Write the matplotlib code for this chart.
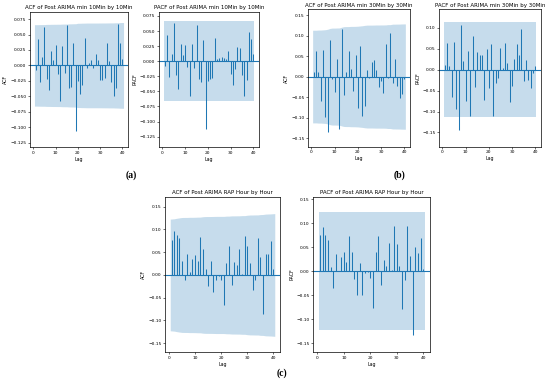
import matplotlib.pyplot as plt
import numpy as np

# lags 1..40
lags = np.arange(1, 41)

acf_10 = [-0.008, 0.043, -0.027, 0.014, 0.062, -0.022, -0.040, 0.023, 0.009, 0.033,
          -0.014, -0.058, 0.032, -0.013, 0.066, -0.036, -0.035, 0.037, -0.106, -0.025,
          -0.046, -0.032, 0.045, -0.005, 0.004, 0.009, -0.004, 0.019, 0.008, -0.024,
          -0.024, -0.020, 0.036, 0.007, -0.027, -0.049, -0.036, 0.067, 0.036, 0.011]
pacf_10 = [-0.008, 0.044, -0.026, 0.012, 0.064, -0.023, -0.046, 0.028, 0.010, 0.026,
           -0.010, -0.058, 0.029, -0.011, 0.060, -0.030, -0.035, 0.035, -0.112, -0.033,
           -0.029, -0.028, 0.038, 0.004, 0.005, 0.007, 0.006, 0.003, 0.017, -0.022,
           -0.040, -0.013, 0.024, 0.022, -0.023, -0.058, -0.031, 0.049, 0.037, 0.012]
acf_30 = [0.011, 0.063, 0.010, -0.060, 0.065, -0.098, -0.135, 0.088, -0.005, -0.038,
          0.042, -0.127, 0.115, -0.044, 0.011, 0.062, 0.019, -0.036, 0.052, -0.077,
          0.074, -0.096, -0.071, 0.017, -0.003, 0.036, 0.040, 0.016, -0.026, -0.010,
          -0.039, 0.079, -0.004, 0.105, -0.015, 0.042, -0.022, -0.053, -0.043, -0.005]
pacf_30 = [0.011, 0.063, 0.009, -0.066, 0.067, -0.095, -0.145, 0.106, 0.020, -0.074,
           0.045, -0.111, 0.080, -0.042, 0.041, 0.036, 0.034, -0.073, 0.050, -0.044,
           0.060, -0.111, -0.031, -0.019, 0.051, 0.003, 0.064, 0.015, -0.077, -0.039,
           0.025, 0.060, 0.035, 0.097, -0.027, 0.023, -0.025, -0.043, -0.009, 0.009]
acf_rap = [0.076, 0.096, 0.088, 0.082, 0.031, -0.011, 0.046, 0.006, 0.034, 0.044,
           0.031, 0.083, 0.058, 0.014, -0.024, 0.030, -0.037, -0.010, -0.003, -0.010,
           -0.067, 0.026, 0.064, -0.022, 0.028, 0.021, 0.058, 0.003, 0.086, 0.064,
           0.026, -0.034, -0.010, 0.082, 0.040, -0.086, 0.047, 0.045, 0.075, 0.013]
pacf_rap = [0.076, 0.092, 0.076, 0.065, 0.008, -0.036, 0.036, 0.001, 0.029, 0.040,
            0.018, 0.073, 0.040, -0.016, -0.049, 0.017, -0.049, -0.003, -0.001, -0.014,
            -0.076, 0.040, 0.073, -0.028, 0.024, 0.011, 0.059, 0.002, 0.094, 0.056,
            0.011, -0.078, -0.019, 0.093, 0.032, -0.133, 0.051, 0.037, 0.068, 0.005]

# number of observations behind each series (sets the confidence band width)
nobs_10 = 882
nobs_30 = 301
nobs_rap = 255

titles = ["ACF of Post ARIMA min 10Min by 10Min", "PACF of Post ARIMA min 10Min by 10Min",
          "ACF of Post ARIMA min 30Min by 30Min", "PACF of Post ARIMA min 30Min by 30Min",
          "ACF of Post ARIMA RAP Hour by Hour", "PACF of Post ARIMA RAP Hour by Hour"]

W, H = 550, 392
fig = plt.figure(figsize=(W / 100, H / 100), dpi=100)
fig.patch.set_facecolor("white")


def px_axes(l, r, t, b):
    return fig.add_axes([l / W, 1 - b / H, (r - l) / W, (b - t) / H])


def draw_corr(ax, vals, nobs, kind, title, ylim):
    vals = np.asarray(vals)
    if kind == "ACF":
        # Bartlett band, as statsmodels does
        sq = np.concatenate([[0.0], np.cumsum(vals[:-1] ** 2)])
        conf = 1.96 * np.sqrt((1 + 2 * sq) / nobs)
    else:
        conf = np.full(len(vals), 1.96 / np.sqrt(nobs))
    x = lags.astype(float)
    x[0] -= 0.5
    x[-1] += 0.5
    ax.fill_between(x, -conf, conf, color="#1f77b4", alpha=0.25, lw=0)
    ax.vlines(lags, 0, vals, color="#1f77b4", lw=0.75)
    ax.axhline(0, color="#1f77b4", lw=0.8)
    ax.set_ylim(*ylim)
    ax.set_title(title, fontsize=3.95, pad=2)
    ax.set_xlabel("Lag", fontsize=3.4, labelpad=1.5)
    ax.set_ylabel(kind, fontsize=3.4, labelpad=1.5)
    ax.tick_params(labelsize=3.2, length=1.5, width=0.4, pad=1)
    for s in ax.spines.values():
        s.set_linewidth(0.5)


ax1 = px_axes(30, 128, 11.7, 147.5)
draw_corr(ax1, acf_10, nobs_10, "ACF", titles[0], (-0.133, 0.087))
ax2 = px_axes(159, 259, 11.7, 147.5)
draw_corr(ax2, pacf_10, nobs_10, "PACF", titles[1], (-0.143, 0.082))
ax3 = px_axes(308, 410, 9.3, 146.7)
draw_corr(ax3, acf_30, nobs_30, "ACF", titles[2], (-0.171, 0.164))
ax4 = px_axes(439, 541, 9.3, 146.7)
draw_corr(ax4, pacf_30, nobs_30, "PACF", titles[3], (-0.184, 0.144))
ax5 = px_axes(165, 280, 196.7, 352.3)
draw_corr(ax5, acf_rap, nobs_rap, "ACF", titles[4], (-0.170, 0.172))
ax6 = px_axes(313.3, 430, 196.7, 352.3)
draw_corr(ax6, pacf_rap, nobs_rap, "PACF", titles[5], (-0.169, 0.155))

lab = dict(fontsize=7, fontweight="bold", family="Liberation Serif", ha="center", va="center")
fig.text(131 / W, 1 - 175 / H, "(a)", **lab)
fig.text(400 / W, 1 - 175 / H, "(b)", **lab)
fig.text(282 / W, 1 - 373 / H, "(c)", **lab)

fig.savefig("out.png", dpi=100, facecolor="white")
